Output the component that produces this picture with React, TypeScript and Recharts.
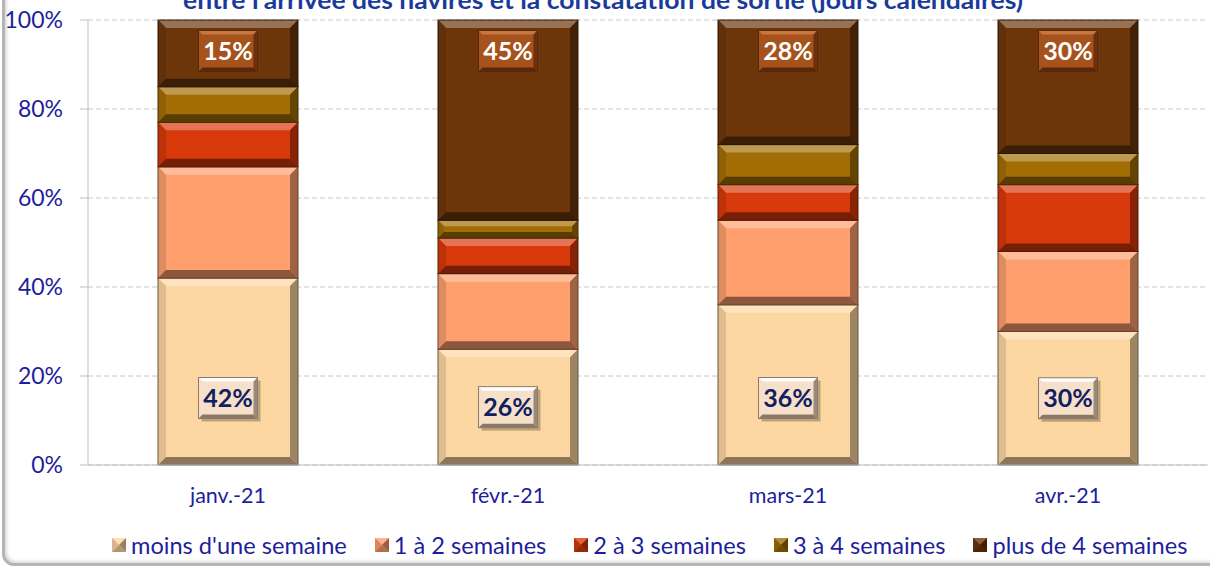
import { BarChart, Bar, XAxis, YAxis, CartesianGrid, Legend, LabelList } from "recharts";

const months = ["janv.-21", "févr.-21", "mars-21", "avr.-21"];
const lessThanWeek = [42, 26, 36, 30];
const oneToTwoWeeks = [25, 17, 19, 18];
const twoToThreeWeeks = [10, 8, 8, 15];
const threeToFourWeeks = [8, 4, 9, 7];
const overFourWeeks = [15, 45, 28, 30];
const yTicks = [0, 20, 40, 60, 80, 100];

const seriesDefs = [
  { key: "moins", name: "moins d'une semaine", values: lessThanWeek, color: "#FDD7A2" },
  { key: "un", name: "1 à 2 semaines", values: oneToTwoWeeks, color: "#FF9F6E" },
  { key: "deux", name: "2 à 3 semaines", values: twoToThreeWeeks, color: "#D8390B" },
  { key: "trois", name: "3 à 4 semaines", values: threeToFourWeeks, color: "#A26D05" },
  { key: "plus", name: "plus de 4 semaines", values: overFourWeeks, color: "#6C360A" },
];

const data = months.map((month, i) => {
  const row: Record<string, string | number> = { month };
  seriesDefs.forEach((s) => (row[s.key] = s.values[i]));
  return row;
});

const FONT = "Lato, 'Open Sans', sans-serif";
const BLUE = "#1E1E9C";

function shade(hex: string, amt: number) {
  const n = parseInt(hex.slice(1), 16);
  const f = (c: number) =>
    amt >= 0 ? Math.round(c + (255 - c) * amt) : Math.round(c * (1 + amt));
  return `rgb(${f(n >> 16)},${f((n >> 8) & 255)},${f(n & 255)})`;
}

function BevelBar(props: any) {
  const { x, y, width: w, height: h, fill } = props;
  if (!h || h <= 0) return null;
  const b = Math.min(8, h / 3);
  return (
    <g>
      <rect x={x} y={y} width={w} height={h} fill={fill} />
      <polygon points={`${x},${y} ${x + w},${y} ${x + w - b},${y + b} ${x + b},${y + b}`} fill={shade(fill, 0.3)} />
      <polygon points={`${x},${y} ${x + b},${y + b} ${x + b},${y + h - b} ${x},${y + h}`} fill={shade(fill, -0.12)} />
      <polygon points={`${x + w},${y} ${x + w - b},${y + b} ${x + w - b},${y + h - b} ${x + w},${y + h}`} fill={shade(fill, -0.38)} />
      <polygon points={`${x},${y + h} ${x + b},${y + h - b} ${x + w - b},${y + h - b} ${x + w},${y + h}`} fill={shade(fill, -0.45)} />
      <rect x={x} y={y} width={w} height={h} fill="none" stroke={shade(fill, -0.6)} strokeWidth={1} />
    </g>
  );
}

function ValueBox(props: any) {
  const { x, y, width, height, value, top } = props;
  if (value == null) return null;
  const cx = x + width / 2;
  const cy = top ? y + 31 : Math.max(y + height / 2, y + height - 67);
  const bw = 59;
  const bh = 41;
  const fill = top ? "#A5521C" : "#F6E0CA";
  const bx = cx - bw / 2;
  const by = cy - bh / 2;
  const b = 4;
  return (
    <g>
      {!top && <rect x={bx + 3} y={by + 3} width={bw} height={bh} fill="rgba(0,0,0,0.25)" />}
      <rect x={bx} y={by} width={bw} height={bh} fill={fill} />
      <polygon points={`${bx},${by} ${bx + bw},${by} ${bx + bw - b},${by + b} ${bx + b},${by + b}`} fill={top ? "#C87840" : "#FFFFFF"} />
      <polygon points={`${bx + bw},${by} ${bx + bw - b},${by + b} ${bx + bw - b},${by + bh - b} ${bx + bw},${by + bh}`} fill={top ? "#6A3010" : "#9C8A78"} />
      <polygon points={`${bx},${by + bh} ${bx + b},${by + bh - b} ${bx + bw - b},${by + bh - b} ${bx + bw},${by + bh}`} fill={top ? "#5A2808" : "#8A7866"} />
      <rect x={bx} y={by} width={bw} height={bh} fill="none" stroke={top ? "#5A2808" : "#8A7A6A"} strokeWidth={1} />
      <text
        x={cx}
        y={cy + 9}
        textAnchor="middle"
        fontFamily={FONT}
        fontWeight="bold"
        fontSize={25}
        fill={top ? "#FFFFFF" : "#102060"}
      >
        {`${value}%`}
      </text>
    </g>
  );
}

function LegendIcon({ color }: { color: string }) {
  return (
    <svg width={14} height={14} style={{ marginRight: 5, flexShrink: 0 }}>
      <rect x={0} y={0} width={14} height={14} fill={color} />
      <polygon points="0,0 14,0 7,7" fill={shade(color, 0.2)} />
      <polygon points="0,0 7,7 0,14" fill={shade(color, -0.15)} />
      <polygon points="14,0 7,7 14,14" fill={shade(color, -0.4)} />
      <polygon points="0,14 7,7 14,14" fill={shade(color, -0.3)} />
    </svg>
  );
}

function LegendContent() {
  return (
    <div
      style={{
        display: "flex",
        alignItems: "center",
        flexWrap: "nowrap",
        whiteSpace: "nowrap",
        width: 1210,
        boxSizing: "border-box",
        paddingLeft: 112,
        paddingTop: 16,
        fontFamily: FONT,
        fontSize: 23.6,
        lineHeight: "28px",
        color: BLUE,
      }}
    >
      {seriesDefs.map((s) => (
        <div key={s.key} style={{ display: "flex", alignItems: "center", marginRight: 28, flexShrink: 0 }}>
          <LegendIcon color={s.color} />
          <span>{s.name}</span>
        </div>
      ))}
    </div>
  );
}

export default function App() {
  return (
    <div style={{ position: "absolute", left: 0, top: 0, width: 1210, height: 566, overflow: "hidden", background: "#FFFFFF" }}>
      <div
        style={{
          position: "absolute",
          left: 2,
          top: -30,
          width: 1260,
          height: 590,
          border: "3px solid #B4B4B4",
          borderRadius: 12,
          boxShadow: "inset 2px -2px 3px #DDDDDD",
        }}
      />
      <BarChart
        width={1210}
        height={566}
        data={data}
        margin={{ top: 20, right: 2, left: 0, bottom: 0 }}
        barCategoryGap="25%"
        style={{ position: "absolute", left: 0, top: 0 }}
      >
        <text
          x={603}
          y={9}
          textAnchor="middle"
          fontFamily={FONT}
          fontWeight="bold"
          fontSize={25}
          fill="#1A3A9A"
          textLength={840}
          lengthAdjust="spacingAndGlyphs"
        >
          entre l'arrivée des navires et la constatation de sortie (jours calendaires)
        </text>
        <CartesianGrid vertical={false} stroke="#C8C8C8" strokeDasharray="5 3" />
        <XAxis
          dataKey="month"
          height={50}
          tickLine={false}
          tickMargin={17}
          axisLine={{ stroke: "#BFBFBF" }}
          tick={{ fill: BLUE, fontSize: 21.5, fontFamily: FONT }}
        />
        <YAxis
          width={88}
          domain={[0, 100]}
          ticks={yTicks}
          interval={0}
          tickFormatter={(v: number) => `${v}%`}
          tickSize={8}
          tickMargin={17}
          axisLine={{ stroke: "#BFBFBF" }}
          tickLine={{ stroke: "#BFBFBF" }}
          tick={{ fill: BLUE, fontSize: 23, fontFamily: FONT }}
        />
        <Legend
          verticalAlign="bottom"
          height={51}
          content={<LegendContent />}
          wrapperStyle={{ left: 0, width: 1210 }}
        />
        {seriesDefs.map((s) => (
          <Bar
            key={s.key}
            dataKey={s.key}
            name={s.name}
            stackId="a"
            fill={s.color}
            shape={<BevelBar />}
            isAnimationActive={false}
          >
            {s.key === "moins" && (
              <LabelList dataKey="moins" content={(p: any) => <ValueBox {...p} />} />
            )}
            {s.key === "plus" && (
              <LabelList dataKey="plus" content={(p: any) => <ValueBox {...p} top />} />
            )}
          </Bar>
        ))}
      </BarChart>
    </div>
  );
}
